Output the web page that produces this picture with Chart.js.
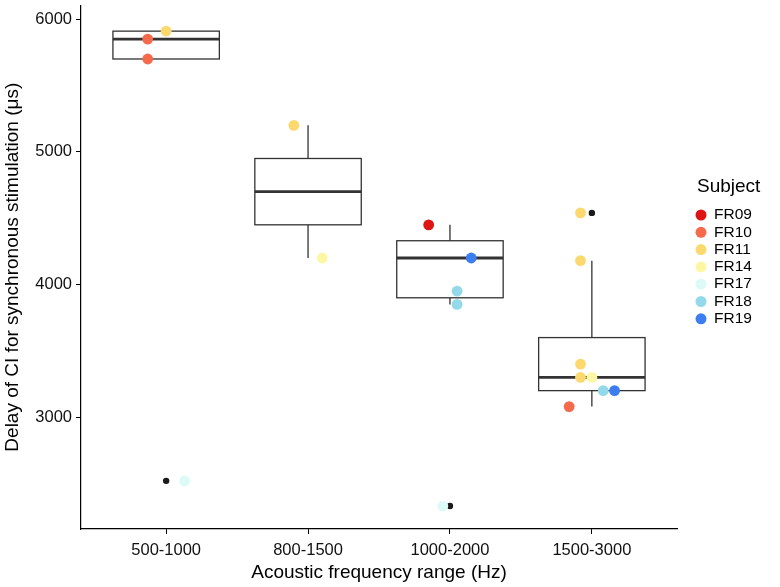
<!DOCTYPE html>
<html>
<head>
<meta charset="utf-8">
<script src="https://cdn.jsdelivr.net/npm/chart.js@4.4.1/dist/chart.umd.min.js"></script>
<style>
  html, body { margin: 0; padding: 0; background: #fff; }
</style>
</head>
<body>
<canvas id="chart" width="780" height="587"></canvas>
<script>
// categorías y resumen de cada caja
const categories = ["500-1000", "800-1500", "1000-2000", "1500-3000"];
const whiskerLow  = [5700, 4200, 3850, 3080];
const boxQ1       = [5700, 4450, 3900, 3200];
const boxMedian   = [5850, 4700, 4200, 3300];
const boxQ3       = [5910, 4950, 4330, 3600];
const whiskerHigh = [5910, 5200, 4450, 4180];

// outliers del boxplot (x = índice de categoría)
const outlierX = [1, 3, 4];
const outlierY = [2520, 2330, 4540];

// puntos por sujeto (x = categoría + desplazamiento)
const subjects = ["FR09", "FR10", "FR11", "FR14", "FR17", "FR18", "FR19"];
const subjectColors = ["#dd1414", "#f46a4b", "#fbd96f", "#fdf7a3", "#dcfaf6", "#94d9e9", "#3c7df0"];
const subjectX = [
  [2.85],
  [0.87, 0.87, 3.84],
  [1.0, 1.9, 3.92, 3.92, 3.92, 3.92],
  [2.1, 4.0],
  [1.13, 2.95],
  [3.05, 3.05, 4.08],
  [3.15, 4.16]
];
const subjectY = [
  [4450],
  [5850, 5700, 3080],
  [5910, 5200, 4540, 4180, 3400, 3300],
  [4200, 3300],
  [2520, 2330],
  [3950, 3850, 3200],
  [4200, 3200]
];
const yTicks = [3000, 4000, 5000, 6000];

const FONT = "'Liberation Sans', Arial, sans-serif";

const boxPlugin = {
  id: "boxes",
  beforeDatasetsDraw(chart) {
    const { ctx, scales: { x, y } } = chart;
    ctx.save();
    ctx.strokeStyle = "#333";
    categories.forEach((c, i) => {
      const cx = x.getPixelForValue(i + 1);
      const half = x.getPixelForValue(i + 1 + 0.375) - cx;
      const top = y.getPixelForValue(boxQ3[i]);
      const bot = y.getPixelForValue(boxQ1[i]);
      ctx.lineWidth = 1.3;
      ctx.beginPath();
      ctx.moveTo(cx, y.getPixelForValue(whiskerHigh[i])); ctx.lineTo(cx, top);
      ctx.moveTo(cx, bot); ctx.lineTo(cx, y.getPixelForValue(whiskerLow[i]));
      ctx.stroke();
      ctx.fillStyle = "#fff";
      ctx.fillRect(cx - half, top, 2 * half, bot - top);
      ctx.strokeRect(cx - half, top, 2 * half, bot - top);
      const med = y.getPixelForValue(boxMedian[i]);
      ctx.lineWidth = 2.8;
      ctx.beginPath();
      ctx.moveTo(cx - half, med); ctx.lineTo(cx + half, med);
      ctx.stroke();
    });
    ctx.restore();
  }
};

const legendPlugin = {
  id: "subjectLegend",
  afterDraw(chart) {
    const ctx = chart.ctx;
    ctx.save();
    ctx.textBaseline = "middle";
    ctx.fillStyle = "#000";
    ctx.font = "19px " + FONT;
    ctx.fillText("Subject", 697, 187);
    ctx.font = "15.5px " + FONT;
    subjects.forEach((s, i) => {
      const yy = 215 + i * 17.3;
      ctx.beginPath();
      ctx.arc(701, yy, 5.5, 0, Math.PI * 2);
      ctx.fillStyle = subjectColors[i];
      ctx.fill();
      ctx.fillStyle = "#000";
      ctx.fillText(s, 714, yy);
    });
    ctx.restore();
  }
};

const datasets = subjects.map((s, i) => ({
  label: s,
  data: subjectX[i].map((xv, k) => ({ x: xv, y: subjectY[i][k] })),
  backgroundColor: subjectColors[i],
  borderWidth: 0,
  pointRadius: 5.4,
  order: subjects.length - i
}));
datasets.push({
  label: "outliers",
  data: outlierX.map((xv, k) => ({ x: xv, y: outlierY[k] })),
  backgroundColor: "#1a1a1a",
  borderWidth: 0,
  pointRadius: 3.2,
  order: 100
});

new Chart(document.getElementById("chart"), {
  type: "scatter",
  data: { datasets },
  plugins: [boxPlugin, legendPlugin],
  options: {
    responsive: false,
    animation: false,
    devicePixelRatio: 1,
    layout: { padding: { top: 0, right: 103, bottom: 0, left: 0 } },
    plugins: { legend: { display: false }, tooltip: { enabled: false } },
    scales: {
      x: {
        type: "linear",
        min: 0.4, max: 4.6,
        afterBuildTicks: s => { s.ticks = categories.map((c, i) => ({ value: i + 1 })); },
        afterFit: s => { s.height = 58; s.paddingLeft = 0; s.paddingRight = 0; },
        ticks: {
          callback: v => categories[v - 1],
          color: "#111", font: { family: FONT, size: 16.5 }, padding: 7, maxRotation: 0
        },
        grid: { drawOnChartArea: false, tickLength: 5, color: "#000", tickWidth: 1 },
        border: { display: true, color: "#000", width: 1.2 },
        title: { display: true, text: "Acoustic frequency range (Hz)", color: "#000",
                 font: { family: FONT, size: 19 }, padding: { top: 0, bottom: 3 } }
      },
      y: {
        min: 2157, max: 6104,
        afterBuildTicks: s => { s.ticks = yTicks.map(v => ({ value: v })); },
        afterFit: s => { s.width = 81; s.paddingTop = 0; s.paddingBottom = 0; },
        ticks: { callback: v => String(v), color: "#111", font: { family: FONT, size: 16.5 }, padding: 4 },
        grid: { drawOnChartArea: false, tickLength: 5, color: "#000", tickWidth: 1 },
        border: { display: true, color: "#000", width: 1.2 },
        title: { display: true, text: "Delay of CI for synchronous stimulation (\u03bcs)", color: "#000",
                 font: { family: FONT, size: 19 }, padding: { top: 1, bottom: 0 } }
      }
    }
  }
});
</script>
</body>
</html>
